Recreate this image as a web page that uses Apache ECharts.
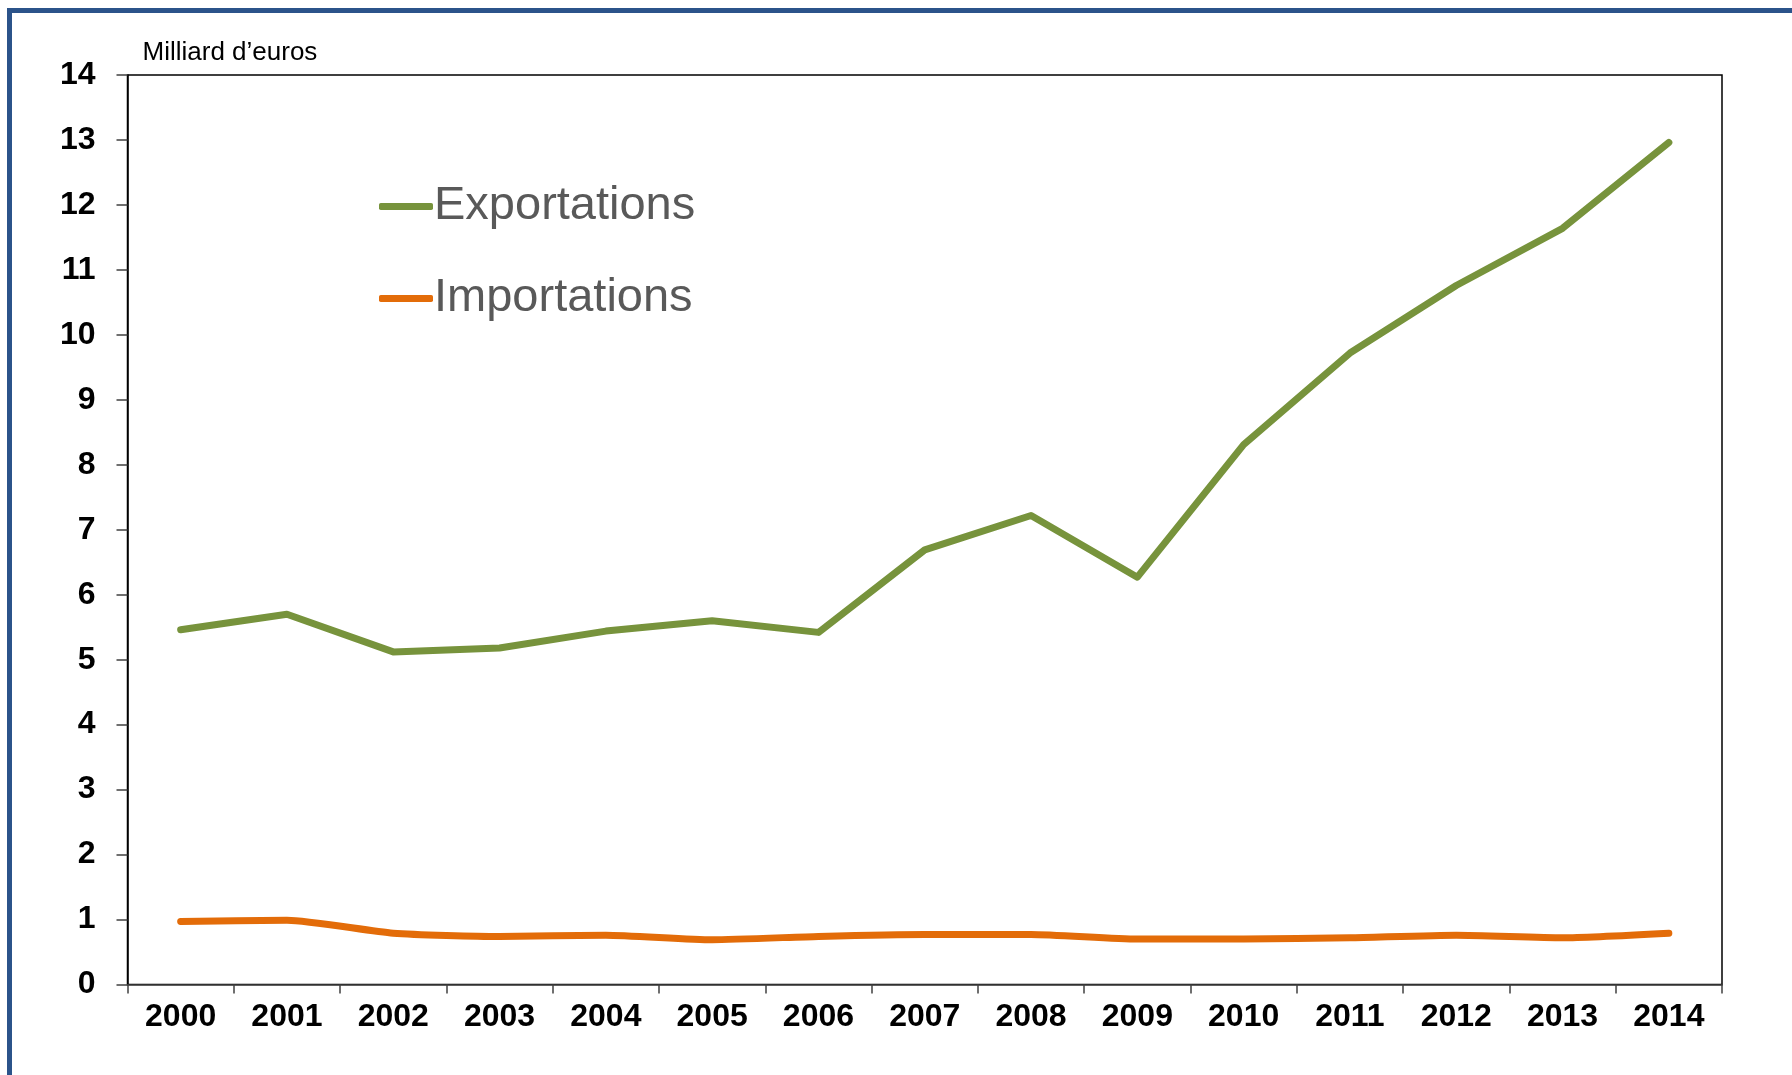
<!DOCTYPE html>
<html>
<head>
<meta charset="utf-8">
<script src="https://cdn.jsdelivr.net/npm/echarts@6/dist/echarts.min.js"></script>
<style>
  html, body { margin: 0; padding: 0; background: #fff; }
  #chart { width: 1792px; height: 1075px; }
</style>
</head>
<body>
<div id="chart"></div>
<script>
// données
const years = ['2000', '2001', '2002', '2003', '2004', '2005', '2006', '2007',
  '2008', '2009', '2010', '2011', '2012', '2013', '2014'];
const exportations = [5.46, 5.70, 5.12, 5.18, 5.44, 5.60, 5.42, 6.69, 7.22, 6.27, 8.31, 9.72, 10.76, 11.64, 12.96];
const importations = [0.97, 0.99, 0.79, 0.74, 0.76, 0.69, 0.74, 0.77, 0.77, 0.70, 0.70, 0.72, 0.76, 0.72, 0.79];
const unitLabel = 'Milliard d\u2019euros';

const myechart = echarts.init(document.getElementById('chart'));

const legendText = {
  color: '#595959',
  fontSize: 47,
  fontFamily: 'Liberation Sans, Arial, sans-serif',
  padding: [0, 0, 0, -4]
};

const option = {
  animation: false,
  textStyle: { fontFamily: 'Liberation Sans, Arial, sans-serif' },
  // cadre bleu (haut + gauche)
  graphic: [{
    type: 'polyline',
    shape: { points: [[9.5, 1075], [9.5, 10.5], [1792, 10.5]] },
    style: { stroke: '#2B538A', lineWidth: 5, fill: null }
  }],
  grid: {
    left: 127.5,
    top: 75,
    right: 70,
    bottom: 90.5,
    show: true,
    borderColor: '#000',
    borderWidth: 1.5
  },
  legend: [
    {
      data: ['Exportations'],
      left: 379, top: 183, padding: 0,
      icon: 'roundRect', itemWidth: 54, itemHeight: 7,
      textStyle: legendText
    },
    {
      data: ['Importations'],
      left: 379, top: 275, padding: 0,
      icon: 'roundRect', itemWidth: 54, itemHeight: 7,
      textStyle: legendText
    }
  ],
  xAxis: {
    type: 'category',
    data: years,
    boundaryGap: true,
    axisLine: { lineStyle: { color: '#404040', width: 1.5 } },
    axisTick: { show: true, length: 9, lineStyle: { color: '#404040', width: 1.5 } },
    axisLabel: {
      interval: 0,
      color: '#000',
      fontSize: 32,
      fontWeight: 'bold',
      margin: 17
    },
    splitLine: { show: false }
  },
  yAxis: {
    type: 'value',
    min: 0,
    max: 14,
    interval: 1,
    name: unitLabel,
    nameLocation: 'end',
    nameGap: 22,
    nameTextStyle: {
      color: '#000',
      fontSize: 26,
      align: 'left',
      verticalAlign: 'middle',
      padding: [0, 0, 0, 15]
    },
    axisLine: { show: true, lineStyle: { color: '#000', width: 1.5 } },
    axisTick: { show: true, length: 11, lineStyle: { color: '#404040', width: 1.5 } },
    axisLabel: {
      color: '#000',
      fontSize: 32,
      fontWeight: 'bold',
      margin: 32
    },
    splitLine: { show: false }
  },
  series: [
    {
      name: 'Exportations',
      type: 'line',
      data: exportations,
      symbol: 'none',
      color: '#77933C',
      lineStyle: { width: 7, cap: 'round', join: 'round' }
    },
    {
      name: 'Importations',
      type: 'line',
      data: importations,
      symbol: 'none',
      smooth: 0.2,
      color: '#E36C09',
      lineStyle: { width: 7, cap: 'round', join: 'round' }
    }
  ]
};

myechart.setOption(option);
window.addEventListener('resize', () => { myechart && myechart.resize(); });
</script>
</body>
</html>
